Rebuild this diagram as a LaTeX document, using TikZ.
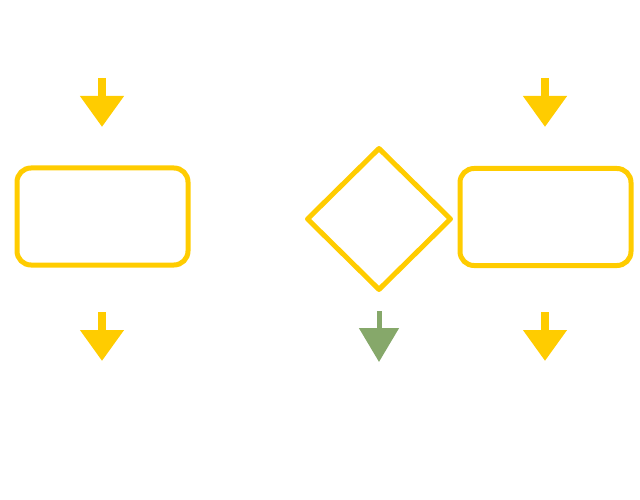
\documentclass[tikz,border=0pt]{standalone}
\usetikzlibrary{shapes.geometric,arrows.meta}
\definecolor{ylw}{HTML}{FFCC00}
\definecolor{grn}{HTML}{86A86A}
\begin{document}
\begin{tikzpicture}[x=1pt,y=-1pt,
  box/.style={draw=ylw,line width=5pt,rounded corners=14pt,minimum width=171pt,minimum height=97pt,inner sep=0pt},
  dia/.style={draw=ylw,line width=5pt,diamond,minimum width=145pt,minimum height=143pt,inner sep=0pt,line join=round},
  arr/.style={draw=ylw,fill=ylw,line width=8pt,-{Triangle[width=42pt,length=31pt]}},
  garr/.style={draw=grn,fill=grn,line width=5pt,-{Triangle[width=39pt,length=34pt]}}]
\useasboundingbox (0,0) rectangle (640,500);
\node[box] (r1) at (102.5,216.5) {};
\node[box] (r2) at (545.5,217) {};
\node[dia] (d) at (379,219) {};
\coordinate (a1s) at (102,78); \coordinate (a1e) at (102,127);
\coordinate (a2s) at (545,78); \coordinate (a2e) at (545,127);
\coordinate (a3s) at (102,312); \coordinate (a3e) at (102,361);
\coordinate (a4s) at (545,312); \coordinate (a4e) at (545,361);
\coordinate (a5s) at (379,311); \coordinate (a5e) at (379,362);
\draw[arr] (a1s) -- (a1e);
\draw[arr] (a2s) -- (a2e);
\draw[arr] (a3s) -- (a3e);
\draw[arr] (a4s) -- (a4e);
\draw[garr] (a5s) -- (a5e);
\end{tikzpicture}
\end{document}
